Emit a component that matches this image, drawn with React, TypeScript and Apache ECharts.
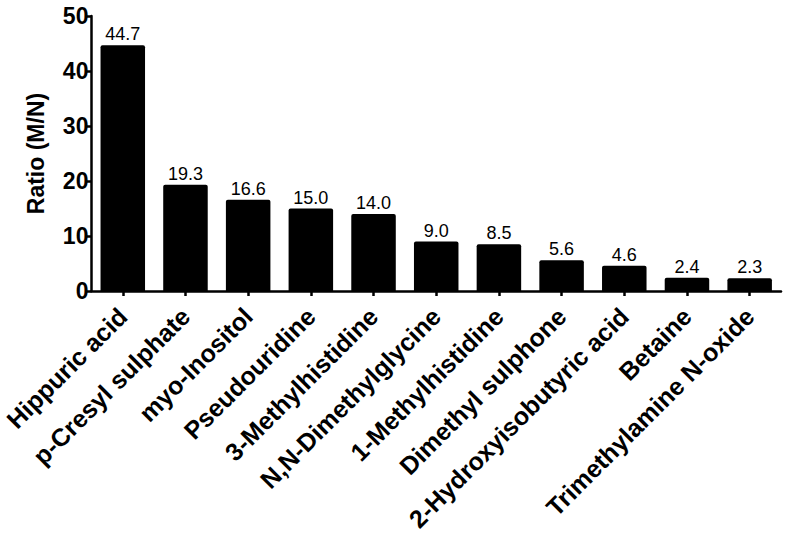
import React, { useEffect, useRef } from "react";
import * as echarts from "echarts";

const categories = [
  "Hippuric acid",
  "p-Cresyl sulphate",
  "myo-Inositol",
  "Pseudouridine",
  "3-Methylhistidine",
  "N,N-Dimethylglycine",
  "1-Methylhistidine",
  "Dimethyl sulphone",
  "2-Hydroxyisobutyric acid",
  "Betaine",
  "Trimethylamine N-oxide",
];
const ratios = [44.7, 19.3, 16.6, 15.0, 14.0, 9.0, 8.5, 5.6, 4.6, 2.4, 2.3];
const yTitle = "Ratio (M/N)";

export default function App() {
  const ref = useRef<HTMLDivElement>(null);
  useEffect(() => {
    if (!ref.current) return;
    const chart = echarts.init(ref.current, undefined, { renderer: "svg" });
    const font = "Liberation Sans, Arial, sans-serif";
    chart.setOption({
      animation: false,
      backgroundColor: "#fff",
      grid: { left: 88, right: 9, top: 16, bottom: 245, containLabel: false },
      xAxis: {
        type: "category",
        data: categories,
        axisLine: { lineStyle: { color: "#000", width: 2.5 } },
        axisTick: { show: true, alignWithLabel: true, length: 5, lineStyle: { color: "#000", width: 2.5 } },
        axisLabel: {
          interval: 0,
          rotate: 45,
          color: "#000",
          fontFamily: font,
          fontWeight: "bold",
          fontSize: 25,
          margin: 21,
        },
      },
      yAxis: {
        type: "value",
        min: 0,
        max: 50,
        interval: 10,
        name: yTitle,
        nameLocation: "middle",
        nameGap: 44,
        nameTextStyle: { color: "#000", fontFamily: font, fontWeight: "bold", fontSize: 23 },
        splitLine: { show: false },
        axisLine: { show: true, lineStyle: { color: "#000", width: 2.5 } },
        axisTick: { show: true, length: 5, lineStyle: { color: "#000", width: 2.5 } },
        axisLabel: {
          color: "#000",
          fontFamily: font,
          fontWeight: "bold",
          fontSize: 23,
          margin: 3,
        },
      },
      series: [
        {
          type: "bar",
          data: ratios,
          barCategoryGap: "29%",
          itemStyle: { color: "#000", borderRadius: [2, 2, 0, 0] },
          label: {
            show: true,
            position: "top",
            distance: 2,
            color: "#000",
            fontFamily: font,
            fontSize: 18,
            formatter: (p: any) => Number(p.value).toFixed(1),
          },
        },
      ],
    });
    return () => chart.dispose();
  }, []);
  return <div ref={ref} style={{ width: 790, height: 536, position: "absolute", left: 0, top: 0 }} />;
}
